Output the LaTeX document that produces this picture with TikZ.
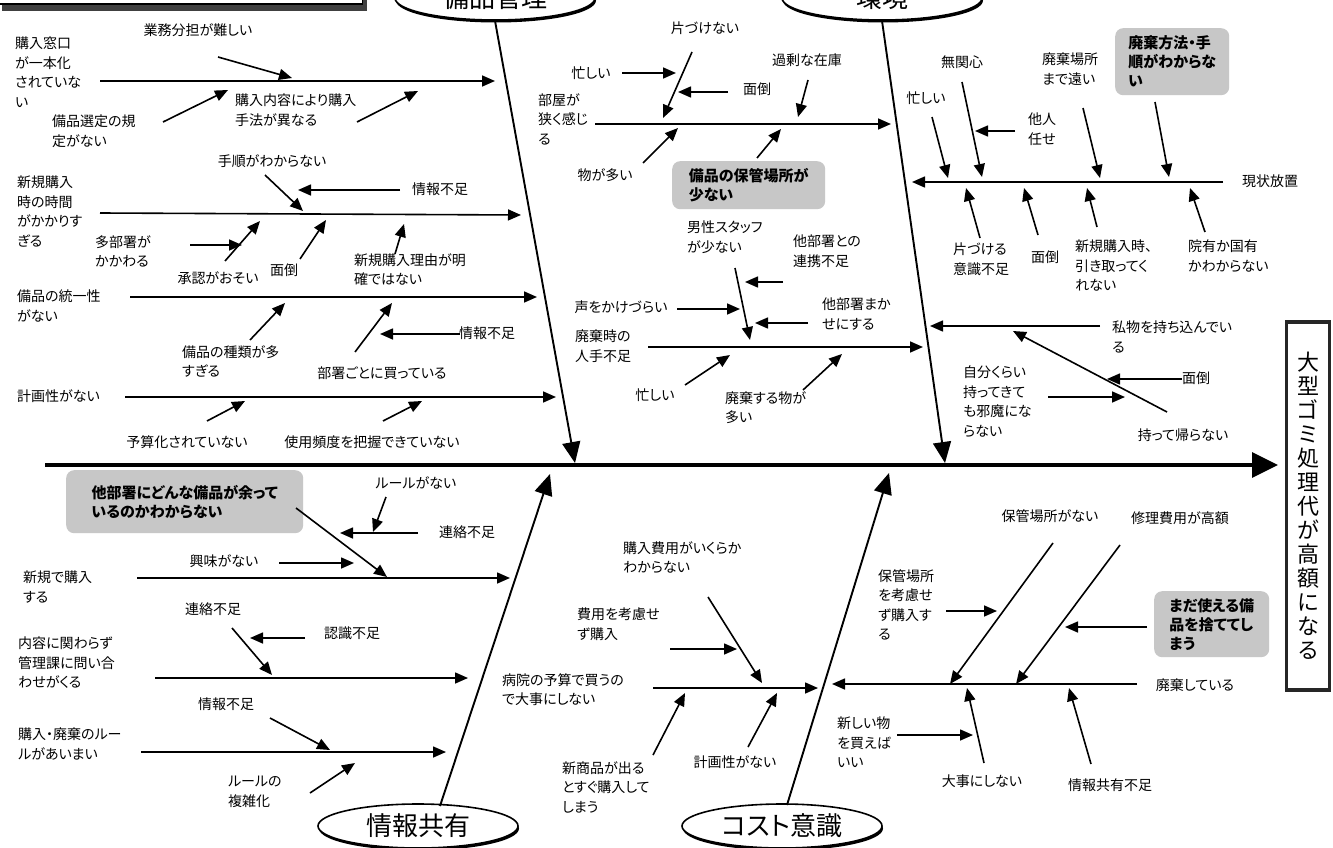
\documentclass[tikz,border=0pt]{standalone}
\usepackage{fontspec}
\newfontfamily\jpf{Noto Sans CJK JP}[RawFeature=+palt]
\usetikzlibrary{arrows.meta,shapes.geometric,shadows}
\newcommand\jpl{\jpf\fontsize{14}{19.5}\selectfont}
\newcommand\jphl{\jpf\bfseries\fontsize{15}{19}\selectfont}
\newcommand\jpcat{\jpf\fontsize{26}{30}\selectfont}
\newcommand\jpgoal{\jpf\fontsize{22}{24}\selectfont}
\newcommand\Arr[4][sub]{\coordinate (#2s) at (#3);\coordinate (#2e) at (#4);\draw[#1] (#2s) -- (#2e);}
\begin{document}
\begin{tikzpicture}[x=1pt,y=-1pt,
  lbl/.style={font=\jpl,inner sep=0pt,align=left,anchor=north west},
  clbl/.style={font=\jpl,inner sep=0pt},
  sub/.style={line width=1.6pt,-{Triangle[length=13pt,width=11pt]}},
  bone/.style={line width=1.9pt,-{Triangle[length=21pt,width=18pt]}},
  spine/.style={line width=3.4pt,-{Triangle[length=26pt,width=25pt]}},
  hl/.style={fill=black!22,rounded corners=8pt,font=\jphl,align=left,inner xsep=8pt,inner ysep=6pt,anchor=north west},
  cat/.style={ellipse,draw,line width=1.6pt,fill=white,minimum width=200pt,minimum height=44pt,font=\jpcat,inner sep=0pt,drop shadow={fill=black,opacity=1,shadow xshift=1pt,shadow yshift=-2.5pt}}
]
\useasboundingbox (0,0) rectangle (1333,848);
\fill[white] (0,0) rectangle (1333,848);

% top-left cut-off box
\node[draw,fill=white,line width=1.2pt,minimum width=365pt,minimum height=40pt,inner sep=0pt,drop shadow={fill=black!75,opacity=1,shadow xshift=4pt,shadow yshift=-7pt}] (tlbox) at (180,-16) {};

% categories
\node[cat] (c1) at (495,-2) {備品管理};
\node[cat] (c2) at (882,-2) {環境};
\node[cat] (c3) at (418,826) {情報共有};
\node[cat] (c4) at (782,826) {コスト意識};

% goal
\node[draw=black!85,line width=3.5pt,fill=white,minimum width=43pt,minimum height=368pt,inner sep=0pt,align=center,font=\jpgoal] (goal) at (1308,506) {大\\型\\ゴ\\ミ\\処\\理\\代\\が\\高\\額\\に\\な\\る};

% spine and bones
\coordinate (sp0) at (45,465); \coordinate (sp1) at (1278,465);
\draw[spine] (sp0) -- (sp1);
\coordinate (b1) at (575,463); \draw[bone] (c1.south) -- (b1);
\coordinate (b2) at (945,463); \draw[bone] (c2.south) -- (b2);
\coordinate (b3s) at (440,806); \coordinate (b3) at (550,474); \draw[bone] (b3s) -- (b3);
\coordinate (b4s) at (787,805); \coordinate (b4) at (889,473); \draw[bone] (b4s) -- (b4);

% ===== upper left =====
\node[lbl] (n1) at (15,37) {購入窓口\\が一本化\\されていな\\い};
\Arr{lA}{100,81}{495,81}
\node[clbl] (n2) at (198,30) {業務分担が難しい};
\Arr{a1}{218,57}{292,78}
\node[lbl] (n3) at (52,115) {備品選定の規\\定がない};
\Arr{a2}{163,122}{228,90}
\node[lbl] (n4) at (235,94) {購入内容により購入\\手法が異なる};
\Arr{a3}{357,122}{418,91}

\node[lbl] (n5) at (17,176) {新規購入\\時の時間\\がかかりす\\ぎる};
\Arr{lB}{100,213}{521,215}
\node[clbl] (n6) at (272,161) {手順がわからない};
\Arr{a4}{265,175}{303,211}
\node[clbl] (n7) at (440,189) {情報不足};
\Arr{a5}{400,190}{298,190}
\node[lbl] (n8) at (95,235) {多部署が\\かかわる};
\Arr{a6}{190,245}{242,245}
\node[clbl] (n9) at (218,278) {承認がおそい};
\Arr{a7}{225,261}{260,221}
\node[clbl] (n10) at (284,270) {面倒};
\Arr{a8}{300,259}{326,220}
\node[lbl] (n11) at (354,253) {新規購入理由が明\\確ではない};
\Arr{a9}{395,254}{404,224}

\node[lbl] (n12) at (17,290) {備品の統一性\\がない};
\Arr{lC}{130,297}{537,297}
\node[lbl] (n13) at (182,345) {備品の種類が多\\すぎる};
\Arr{a10}{250,340}{285,303}
\node[clbl] (n14) at (382,373) {部署ごとに買っている};
\Arr{a11}{355,352}{392,303}
\node[clbl] (n15) at (487,333) {情報不足};
\Arr{a12}{460,334}{380,334}

\node[clbl,anchor=west] (n16) at (17,396) {計画性がない};
\Arr{lD}{125,397}{556,397}
\node[clbl] (n17) at (187,442) {予算化されていない};
\Arr{a13}{207,421}{245,401}
\node[clbl] (n18) at (372,442) {使用頻度を把握できていない};
\Arr{a14}{383,421}{422,401}

% ===== upper middle =====
\node[clbl] (m1) at (705,28) {片づけない};
\node[clbl] (m2) at (591,73) {忙しい};
\Arr{m2a}{622,73}{676,73}
\Arr{m1a}{692,52}{663,118}
\node[clbl] (m3) at (757,89) {面倒};
\Arr{m3a}{728,92}{678,92}
\node[clbl] (m4) at (807,60) {過剰な在庫};
\Arr{m4a}{808,80}{798,117}
\node[lbl] (m5) at (538,93) {部屋が\\狭く感じ\\る};
\Arr{lE}{595,124}{891,124}
\node[clbl] (m6) at (605,175) {物が多い};
\Arr{m6a}{643,163}{678,128}
\node[hl,minimum width=153pt,minimum height=48pt] (m7) at (672,161) {備品の保管場所が\\少ない};
\Arr{m7a}{757,158}{781,129}

\node[lbl] (m8) at (687,221) {男性スタッフ\\が少ない};
\node[lbl] (m9) at (793,235) {他部署との\\連携不足};
\Arr{m8a}{735,268}{750,340}
\Arr{m9a}{783,282}{745,282}
\node[clbl] (m10) at (621,307) {声をかけづらい};
\Arr{m10a}{677,309}{740,309}
\node[lbl] (m11) at (822,298) {他部署まか\\せにする};
\Arr{m11a}{808,323}{755,323}
\node[lbl] (m12) at (575,330) {廃棄時の\\人手不足};
\Arr{lF}{648,347}{923,347}
\node[clbl] (m13) at (655,395) {忙しい};
\Arr{m13a}{685,385}{730,355}
\node[lbl] (m14) at (725,391) {廃棄する物が\\多い};
\Arr{m14a}{803,390}{842,354}

% ===== upper right =====
\node[clbl] (r1) at (962,62) {無関心};
\node[lbl] (r2) at (1042,53) {廃棄場所\\まで遠い};
\node[hl,minimum width=114pt,minimum height=67pt] (r3) at (1115,28) {廃棄方法・手\\順がわからな\\い};
\node[clbl] (r4) at (926,98) {忙しい};
\node[lbl] (r5) at (1028,113) {他人\\任せ};
\Arr{r4a}{932,117}{948,178}
\Arr{r1a}{962,82}{982,177}
\Arr{r5a}{1015,131}{975,131}
\Arr{r2a}{1083,108}{1100,178}
\Arr{r3a}{1155,102}{1169,177}
\Arr{lG}{1223,182}{912,182}
\node[clbl] (r6) at (1270,181) {現状放置};
\Arr{r7a}{980,238}{966,188}
\Arr{r8a}{1038,235}{1024,188}
\Arr{r9a}{1097,227}{1087,188}
\Arr{r10a}{1205,232}{1190,188}
\node[lbl] (r7) at (953,243) {片づける\\意識不足};
\node[clbl] (r8) at (1045,257) {面倒};
\node[lbl] (r9) at (1075,240) {新規購入時、\\引き取ってく\\れない};
\node[lbl] (r10) at (1188,240) {院有か国有\\かわからない};

\Arr{lH}{1100,326}{930,326}
\node[lbl] (r11) at (1112,321) {私物を持ち込んでい\\る};
\Arr{r12a}{1167,412}{1013,331}
\node[clbl,anchor=west] (r13) at (1182,378) {面倒};
\Arr{r13a}{1182,379}{1107,379}
\node[lbl] (r14) at (963,366) {自分くらい\\持ってきて\\も邪魔にな\\らない};
\Arr{r14a}{1048,397}{1125,397}
\node[clbl] (r12) at (1183,435) {持って帰らない};

% ===== lower left =====
\node[hl,minimum width=237pt,minimum height=63pt] (s1) at (66,470) {他部署にどんな備品が余って\\いるのかわからない};
\node[clbl] (s2) at (416,483) {ルールがない};
\Arr{s2a}{386,497}{373,532}
\node[clbl] (s3) at (467,532) {連絡不足};
\Arr{s3a}{418,533}{340,533}
\Arr{s1a}{296,508}{387,577}
\node[clbl] (s4) at (224,561) {興味がない};
\Arr{s4a}{279,563}{354,563}
\node[lbl] (s5) at (23,571) {新規で購入\\する};
\Arr{lI}{137,578}{510,578}

\node[clbl] (s6) at (213,609) {連絡不足};
\Arr{s6a}{232,628}{272,675}
\node[clbl] (s7) at (352,633) {認識不足};
\Arr{s7a}{305,638}{250,638}
\node[lbl] (s8) at (18,637) {内容に関わらず\\管理課に問い合\\わせがくる};
\Arr{lJ}{155,678}{468,678}

\node[clbl] (s9) at (226,704) {情報不足};
\Arr{s9a}{270,718}{330,750}
\node[lbl] (s10) at (18,728) {購入・廃棄のルー\\ルがあいまい};
\Arr{lK}{141,752}{446,752}
\node[lbl] (s11) at (228,776) {ルールの\\複雑化};
\Arr{s11a}{310,793}{355,763}

% ===== lower middle =====
\node[lbl] (u1) at (623,541) {購入費用がいくらか\\わからない};
\node[lbl] (u2) at (577,608) {費用を考慮せ\\ず購入};
\Arr{u2a}{670,649}{737,649}
\Arr{u1a}{708,597}{762,683}
\node[lbl] (u3) at (502,673) {病院の予算で買うの\\で大事にしない};
\Arr{lL}{653,688}{818,688}
\node[lbl] (u4) at (562,761) {新商品が出る\\とすぐ購入して\\しまう};
\Arr{u4a}{653,755}{685,693}
\node[clbl] (u5) at (735,762) {計画性がない};
\Arr{u5a}{748,747}{777,693}

% ===== lower right =====
\node[clbl] (v1) at (1050,516) {保管場所がない};
\node[clbl] (v2) at (1180,518) {修理費用が高額};
\node[lbl] (v3) at (878,569) {保管場所\\を考慮せ\\ず購入す\\る};
\Arr{v3a}{946,611}{997,611}
\Arr{v1a}{1053,543}{950,684}
\Arr{v2a}{1120,545}{1016,684}
\node[hl,minimum width=115pt,minimum height=66pt] (v4) at (1154,591) {まだ使える備\\品を捨ててし\\まう};
\Arr{v4a}{1147,627}{1065,627}
\Arr{lM}{1137,684}{832,684}
\node[clbl] (v5) at (1195,685) {廃棄している};
\node[lbl] (v6) at (837,717) {新しい物\\を買えば\\いい};
\Arr{v6a}{897,735}{973,735}
\Arr{v7a}{984,763}{967,688}
\Arr{v8a}{1091,764}{1069,688}
\node[clbl] (v7) at (982,781) {大事にしない};
\node[clbl] (v8) at (1110,785) {情報共有不足};
\end{tikzpicture}
\end{document}
